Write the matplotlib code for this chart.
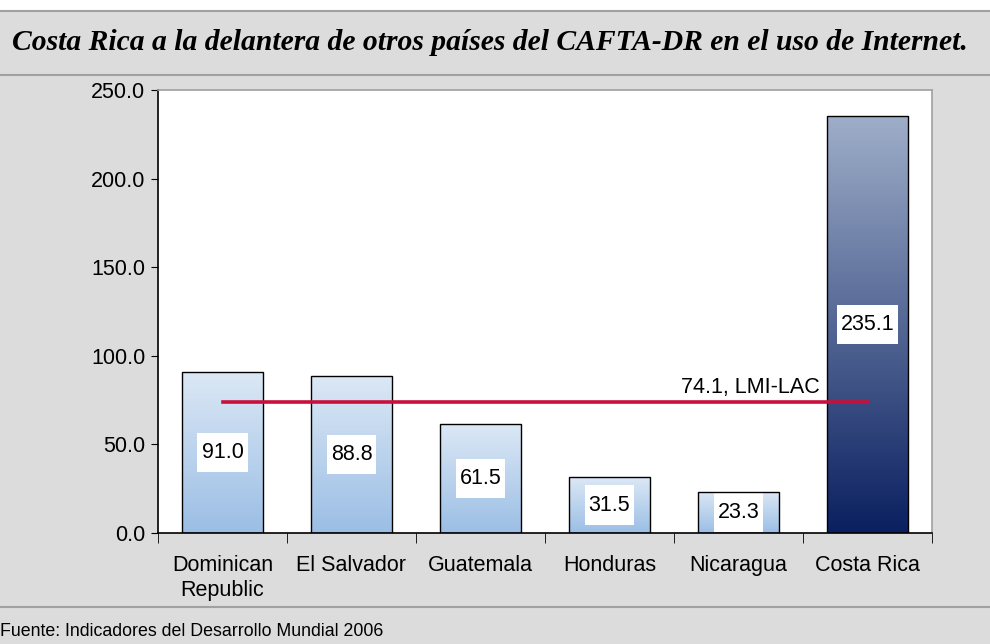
import matplotlib
matplotlib.use("Agg")
import matplotlib.pyplot as plt
import numpy as np
from matplotlib.colors import LinearSegmentedColormap
from matplotlib.lines import Line2D
from matplotlib.path import Path

# data
countries = ["Dominican\nRepublic", "El Salvador", "Guatemala", "Honduras", "Nicaragua", "Costa Rica"]
values = [91.0, 88.8, 61.5, 31.5, 23.3, 235.1]
lmi_lac = 74.1
lmi_label = "74.1, LMI-LAC"
title = "Costa Rica a la delantera de otros países del CAFTA-DR en el uso de Internet."
source = "Fuente: Indicadores del Desarrollo Mundial 2006"

BG = "#dcdcdc"
FS = 15.5
light = LinearSegmentedColormap.from_list("light", ["#9bbee5", "#dce8f5"])
dark = LinearSegmentedColormap.from_list("dark", ["#0a2060", "#9eaec9"])


# label box: narrow sideways, tall vertically (like Excel data labels)
def label_box(x0, y0, width, height, mutation_size):
    px, py = 0.19 * mutation_size, 0.43 * mutation_size
    x0, y0 = x0 - px, y0 - py
    x1, y1 = x0 + width + 2 * px, y0 + height + 2 * py
    return Path([(x0, y0), (x1, y0), (x1, y1), (x0, y1), (x0, y0)], closed=True)


fig = plt.figure(figsize=(9.9, 6.44), dpi=100)
fig.patch.set_facecolor(BG)

# white strip and frame lines of the panel
fig.add_artist(plt.Rectangle((0, 1 - 11 / 644), 1, 11 / 644, transform=fig.transFigure,
                             facecolor="white", edgecolor="none"))
for yy in [1 - 11 / 644, 1 - 75 / 644, 1 - 607 / 644]:
    fig.add_artist(Line2D([0, 1], [yy, yy], transform=fig.transFigure, color="#a0a0a0", lw=1.5))

fig.text(12 / 990, 1 - 43 / 644, title, family="Liberation Serif", weight="bold",
         style="italic", fontsize=21.3, va="center", ha="left")
fig.text(0, 1 - 632 / 644, source, family="Liberation Sans", fontsize=12.8,
         va="center", ha="left")

ax = fig.add_axes([158 / 990, 111 / 644, 774 / 990, 443 / 644])
ax.set_facecolor("white")
x = np.arange(len(values))
ax.set_xlim(-0.5, len(values) - 0.5)
ax.set_ylim(0, 250)

w = 0.63
grad = np.linspace(0, 1, 256).reshape(-1, 1)
for i, v in enumerate(values):
    cmap = dark if i == len(values) - 1 else light
    bar = ax.bar(x[i], v, width=w, facecolor="none", edgecolor="black", lw=1, zorder=6)[0]
    im = ax.imshow(grad, cmap=cmap, aspect="auto", origin="lower",
                   extent=[x[i] - w / 2, x[i] + w / 2, 0, v], zorder=2)
    im.set_clip_path(bar)
    ax.text(x[i], v / 2, f"{v:.1f}", ha="center", va="center", family="Liberation Sans",
            fontsize=FS, zorder=5,
            bbox=dict(boxstyle=label_box, facecolor="white", edgecolor="none"))

# LMI-LAC average line
ax.plot([x[0], x[-1]], [lmi_lac, lmi_lac], color="#c8103c", lw=2.6, zorder=7)
ax.text(4.63, lmi_lac + 2, lmi_label, ha="right", va="bottom", family="Liberation Sans",
        fontsize=FS, zorder=7)

ax.set_yticks(np.arange(0, 251, 50))
ax.set_yticklabels([f"{t:.1f}" for t in np.arange(0, 251, 50)], family="Liberation Sans",
                   fontsize=FS)
ax.set_xticks(x)
ax.set_xticklabels(countries, family="Liberation Sans", fontsize=FS, linespacing=1.25)
ax.set_xticks(np.arange(-0.5, len(values), 1), minor=True)
ax.tick_params(axis="x", which="major", length=0, pad=16)
ax.tick_params(axis="x", which="minor", length=7, direction="out", color="black")
ax.tick_params(axis="y", length=5, direction="out", color="black", pad=4)

for s in ["left", "bottom"]:
    ax.spines[s].set_color("black")
    ax.spines[s].set_linewidth(1.2)
for s in ["right", "top"]:
    ax.spines[s].set_color("#a0a0a0")
    ax.spines[s].set_linewidth(1.2)

fig.savefig("out.png", dpi=100, facecolor=BG)
